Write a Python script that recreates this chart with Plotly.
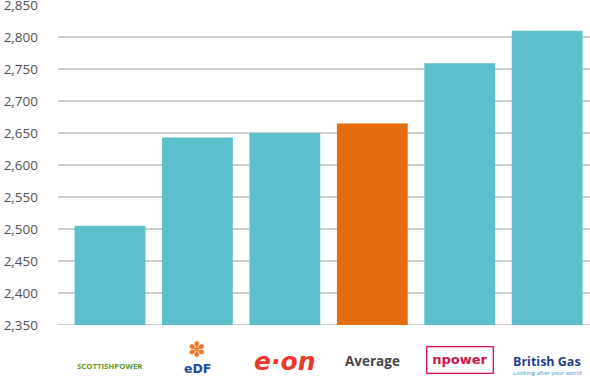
import plotly.graph_objects as go

suppliers = ["ScottishPower", "EDF", "E.ON", "Average", "npower", "British Gas"]
bills = [2505, 2643, 2650, 2665, 2759, 2810]
bar_colors = ["#5BBFCE", "#5BBFCE", "#5BBFCE", "#E46C0A", "#5BBFCE", "#5BBFCE"]
y_ticks = [2350, 2400, 2450, 2500, 2550, 2600, 2650, 2700, 2750, 2800, 2850]
grid_values = [2350, 2400, 2450, 2500, 2550, 2600, 2650, 2700, 2750, 2800]

fig = go.Figure()
fig.add_trace(go.Bar(
    x=list(range(len(suppliers))), y=[b - 2350 for b in bills], base=2350,
    marker=dict(color=bar_colors, line=dict(width=0)),
    width=0.81, hoverinfo="skip",
))

for g in grid_values:
    fig.add_shape(type="line", xref="paper", yref="y", x0=0, x1=1, y0=g, y1=g,
                  line=dict(color="#9a9a9a", width=1), layer="below")

fig.update_layout(
    width=590, height=378,
    margin=dict(l=58, r=0, t=5, b=53),
    plot_bgcolor="white", paper_bgcolor="white",
    showlegend=False,
    font=dict(family="Open Sans", color="#555555", size=13),
    xaxis=dict(range=[-0.595, 5.49], showticklabels=False, showgrid=False,
               zeroline=False, showline=False, automargin=False),
    yaxis=dict(range=[2350, 2850.05], tickvals=y_ticks,
               ticktext=[f"{v:,}" for v in y_ticks],
               showgrid=False, automargin=False, ticklabeloverflow="allow",
               zeroline=False, showline=False, ticks="",
               ticklabelstandoff=19,
               tickfont=dict(family="Open Sans", size=13.5, color="#505050")),
)

labels = [
    dict(text="<b>SCOTTISHPOWER</b>", font=dict(family="Open Sans", size=7.8, color="#5E9A1E"), yshift=-41),
    dict(text="<b>✽</b>", font=dict(family="DejaVu Sans", size=21, color="#F0762E"), yshift=-25),
    dict(text="<b>eDF</b>", font=dict(family="DejaVu Sans", size=12.5, color="#1B4B9B"), yshift=-43),
    dict(text="<b><i>e·on</i></b>", font=dict(family="DejaVu Sans", size=25, color="#E8392C"), yshift=-36),
    dict(text="<b>Average</b>", font=dict(family="Open Sans", size=13.5, color="#444444"), yshift=-36),
    dict(text="<b>npower</b>", font=dict(family="DejaVu Sans", size=13, color="#D1104E"), yshift=-35,
         bordercolor="#D1104E", borderwidth=1.3, borderpad=5),
    dict(text="<b>British Gas</b>", font=dict(family="Open Sans", size=12.5, color="#1B3F8B"), yshift=-36),
    dict(text="Looking after your world", font=dict(family="Open Sans", size=6, color="#1E9CD7"), yshift=-48),
]
xs = [0, 1, 1, 2, 3, 4, 5, 5]
for xi, lab in zip(xs, labels):
    ys = lab.pop("yshift")
    fig.add_annotation(x=xi, y=0, xref="x", yref="paper", yanchor="middle",
                       showarrow=False, yshift=ys, **lab)

fig.write_html("out.html", config={"displayModeBar": False},
               post_script="document.body.style.margin='0';document.body.style.overflow='hidden';")
